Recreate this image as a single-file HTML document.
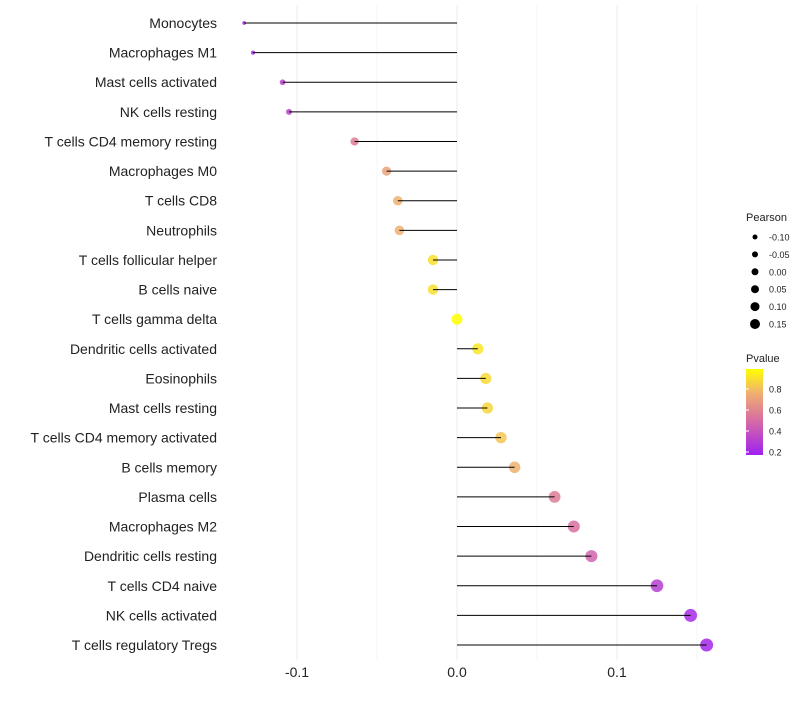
<!DOCTYPE html>
<html><head><meta charset="utf-8"><style>
body{margin:0;background:#fff;font-family:"Liberation Sans",sans-serif}
</style></head><body>
<svg id="chart" width="800" height="700" xmlns="http://www.w3.org/2000/svg">
<defs><linearGradient id="pg" x1="0" y1="1" x2="0" y2="0">
<stop offset="0" stop-color="#a020f0"/><stop offset="0.42" stop-color="#d870a0"/><stop offset="0.72" stop-color="#f0b070"/><stop offset="1" stop-color="#ffff00"/></linearGradient></defs>
<g id="grid"></g><g id="dots"></g><g id="stems"></g><g id="labels"></g><g id="legend"></g>
</svg>
<script>
const cells=["Monocytes","Macrophages M1","Mast cells activated","NK cells resting","T cells CD4 memory resting","Macrophages M0","T cells CD8","Neutrophils","T cells follicular helper","B cells naive","T cells gamma delta","Dendritic cells activated","Eosinophils","Mast cells resting","T cells CD4 memory activated","B cells memory","Plasma cells","Macrophages M2","Dendritic cells resting","T cells CD4 naive","NK cells activated","T cells regulatory  Tregs"];
const pearson=[-0.133,-0.1275,-0.109,-0.105,-0.064,-0.044,-0.037,-0.036,-0.015,-0.015,0,0.013,0.018,0.019,0.0275,0.036,0.061,0.073,0.084,0.125,0.146,0.156];
const pvalue=[0.17,0.2,0.3,0.3,0.55,0.7,0.75,0.75,0.9,0.9,1.0,0.92,0.88,0.87,0.82,0.75,0.55,0.5,0.45,0.28,0.2,0.17];
const xTicks=[-0.1,0,0.1];
const sizeTicks=[-0.10,-0.05,0.00,0.05,0.10,0.15];
const pTicks=[0.8,0.6,0.4,0.2];
const NS="http://www.w3.org/2000/svg";
const x=v=>457+v*1600;
const y=i=>23+i*(622/21);
const r=v=>Math.sqrt(Math.max(2.5,30+(v<0?200:80)*v));
const rl=v=>2.5+(v+0.1)*10;
const stops=[[0.15,[160,32,240]],[0.5,[216,112,160]],[0.75,[240,176,112]],[1,[255,255,0]]];
function col(p){p=Math.max(0.15,Math.min(1,p));for(let k=1;k<stops.length;k++){if(p<=stops[k][0]){const a=stops[k-1],b=stops[k],t=(p-a[0])/(b[0]-a[0]);return 'rgb('+a[1].map((c,j)=>Math.round(c+(b[1][j]-c)*t)).join(',')+')';}}return 'rgb(255,255,0)';}
function mk(t,at,parent){const e=document.createElementNS(NS,t);for(const k in at)e.setAttribute(k,at[k]);document.getElementById(parent).appendChild(e);return e;}
[-0.1,-0.05,0,0.05,0.1,0.15].forEach(v=>{const l=mk('line',{x1:x(v),x2:x(v),y1:5,y2:660,stroke:xTicks.includes(v)?'#ebebeb':'#f5f5f5','stroke-width':1},'grid');

});
xTicks.forEach(v=>{const t=mk('text',{x:x(v),y:677,'text-anchor':'middle','font-size':14,fill:'#222'},'labels');t.textContent=v===0?'0.0':v.toFixed(1);

});
cells.forEach((c,i)=>{
const t=mk('text',{x:217,y:y(i)+5,'text-anchor':'end','font-size':14,fill:'#222'},'labels');t.textContent=c;


const d=mk('circle',{cx:x(pearson[i]),cy:y(i),r:r(pearson[i]),fill:col(pvalue[i]),'fill-opacity':0.85},'dots');


const l=mk('line',{x1:x(0),x2:x(pearson[i]),y1:y(i),y2:y(i),stroke:'#000','stroke-width':1},'stems');


});
let t=mk('text',{x:746,y:221,'font-size':11,fill:'#222'},'legend');t.textContent='Pearson';


sizeTicks.forEach((v,k)=>{const cy=237+k*17.4;
const c=mk('circle',{cx:755,cy:cy,r:rl(v),fill:'#000'},'legend');


const s=mk('text',{x:769,y:cy+3.5,'font-size':9,fill:'#222'},'legend');s.textContent=v.toFixed(2);

});
t=mk('text',{x:746,y:362,'font-size':11,fill:'#222'},'legend');t.textContent='Pvalue';


const bar=mk('rect',{x:746,y:369,width:17,height:86,fill:'url(#pg)'},'legend');


pTicks.forEach(p=>{const yy=452-(p-0.2)/0.2*21;
const tk=mk('line',{x1:746,x2:749,y1:yy,y2:yy,stroke:'#fff'},'legend');


const s=mk('text',{x:769,y:yy+3.5,'font-size':9,fill:'#222'},'legend');s.textContent=p.toFixed(1);

});
</script>
</body></html>
